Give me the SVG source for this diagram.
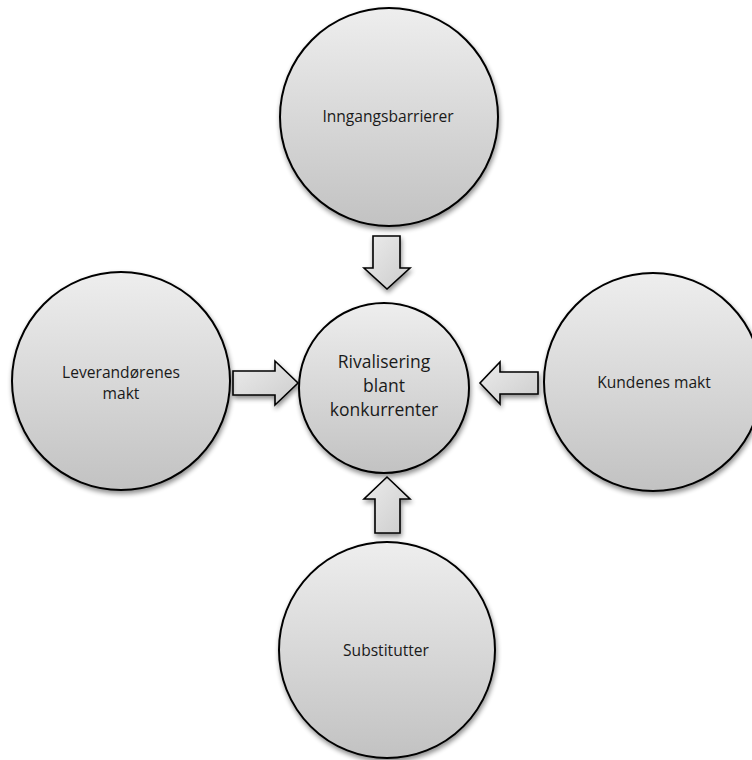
<svg xmlns="http://www.w3.org/2000/svg" width="752" height="760" viewBox="0 0 752 760">
<defs>
<linearGradient id="g" x1="0" y1="0" x2="0" y2="1">
<stop offset="0" stop-color="#eeeeee"/>
<stop offset="1" stop-color="#c2c2c2"/>
</linearGradient>
<linearGradient id="ga" x1="0" y1="0" x2="1" y2="1">
<stop offset="0" stop-color="#ececec"/>
<stop offset="1" stop-color="#cccccc"/>
</linearGradient>
<filter id="sh" x="-20%" y="-20%" width="140%" height="140%">
<feGaussianBlur in="SourceAlpha" stdDeviation="2.5"/>
<feOffset dx="1" dy="3" result="b"/>
<feComponentTransfer><feFuncA type="linear" slope="0.45"/></feComponentTransfer>
<feMerge><feMergeNode/><feMergeNode in="SourceGraphic"/></feMerge>
</filter>
</defs>
<style>
.c{fill:url(#g);stroke:#000;stroke-width:2;filter:url(#sh)}
.a{fill:url(#ga);stroke:#000;stroke-width:1.6;stroke-linejoin:miter;filter:url(#sh)}
.t{font-family:"Open Sans","Noto Sans",sans-serif;font-size:15.6px;fill:#1a1a1a;text-anchor:middle}
.tc{font-family:"Open Sans","Noto Sans",sans-serif;font-size:17.5px;fill:#1a1a1a;text-anchor:middle}
</style>
<g id="connectors">
<polygon class="a" points="373,236 400,236 400,268 410,268 387,289 364,268 373,268"/>
<polygon class="a" points="233,371 275,371 275,361 298,383 275,405 275,395 233,395"/>
<polygon class="a" points="538,372 500,372 500,362 480,383 500,404 500,394 538,394"/>
<polygon class="a" points="375,533 400,533 400,499 410,499 387,477 364,499 375,499"/>
</g>
<g id="top"><circle class="c" cx="389" cy="117" r="109"/><text class="t" x="388" y="122">Inngangsbarrierer</text></g>
<g id="left"><circle class="c" cx="121" cy="381" r="109"/><text class="t" x="121" y="378">Leverandørenes</text><text class="t" x="121" y="399">makt</text></g>
<g id="right"><circle class="c" cx="653" cy="382" r="109"/><text class="t" x="654" y="388">Kundenes makt</text></g>
<g id="bottom"><circle class="c" cx="387" cy="650" r="108"/><text class="t" x="386" y="656">Substitutter</text></g>
<g id="center"><circle class="c" cx="384" cy="388" r="85"/><text class="tc" x="384" y="368">Rivalisering</text><text class="tc" x="384" y="392">blant</text><text class="tc" x="384" y="416">konkurrenter</text></g>
</svg>
